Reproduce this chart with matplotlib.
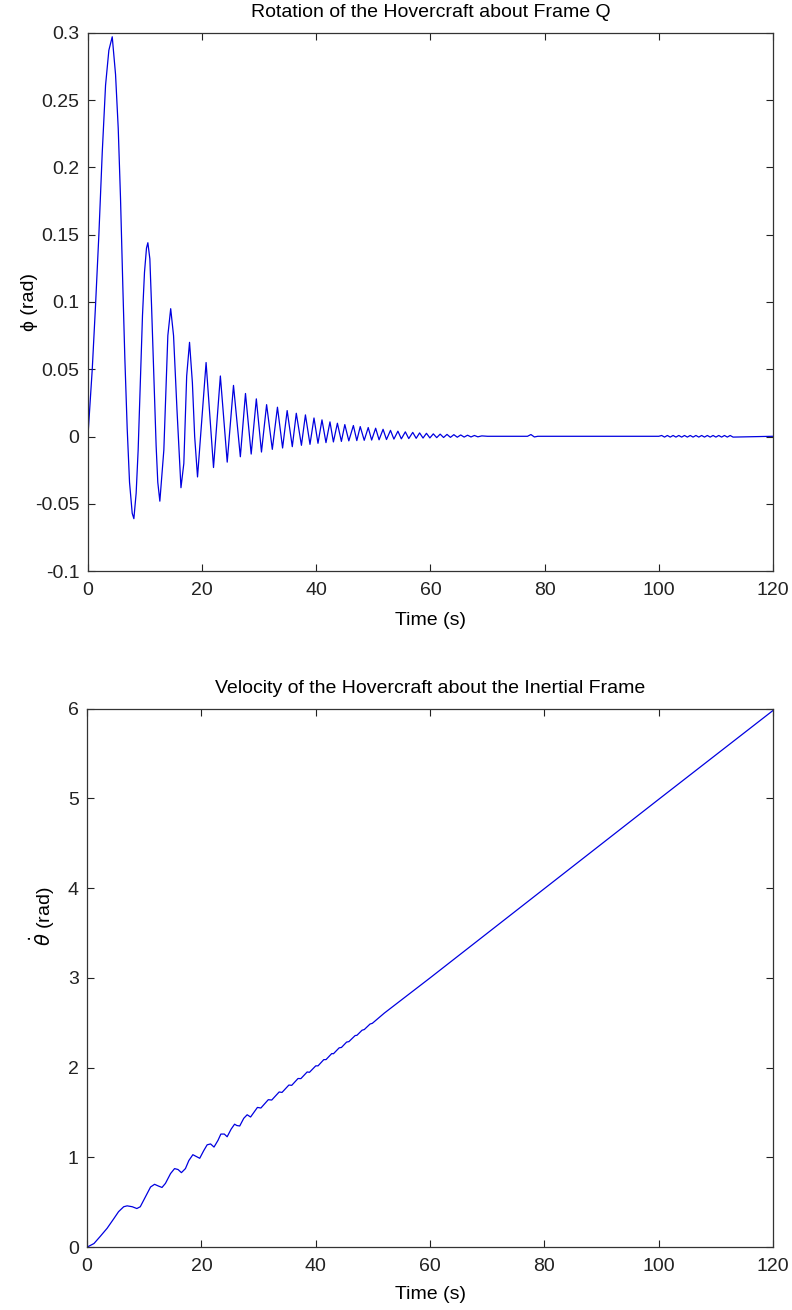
import matplotlib
matplotlib.use("Agg")
import matplotlib.pyplot as plt
from matplotlib.ticker import FuncFormatter

plt.rcParams['font.family'] = ['Liberation Sans', 'DejaVu Sans']
plt.rcParams['axes.unicode_minus'] = False

# --- rotation phi(t), points (extrema + shape points)
t_phi = [0, 0.76, 1.34, 1.92, 2.51, 3.09, 3.67, 4.26, 4.84, 5.31, 5.71, 6.12, 6.47,
         6.88, 7.29, 7.76, 8.05, 8.45, 8.80, 9.21, 9.56, 9.91, 10.26, 10.5, 10.85,
         11.14, 11.55, 11.95, 12.24, 12.6,
         13.3, 14.0, 14.5, 15.0, 15.6, 16.3, 16.8, 17.3, 17.8, 18.3, 18.7, 19.2,
         20.7, 22.0, 23.2, 24.4, 25.5, 26.7, 27.6, 28.6, 29.5, 30.4, 31.3, 32.3,
         33.2, 34.1, 34.9, 35.8, 36.5, 37.4, 38.1, 38.9, 39.6, 40.3, 41.0, 41.7,
         42.4, 43.0, 43.7, 44.4, 45.0, 45.7, 46.5, 47.1, 47.7, 48.4, 49.1, 49.7,
         50.4, 51.0, 51.7, 52.3, 53.0, 53.6, 54.3, 54.9, 55.6, 56.2, 56.9, 57.5,
         58.1, 58.7, 59.3, 59.9, 60.5, 61.1, 61.7, 62.3, 62.9, 63.5, 64.1, 64.7,
         65.3, 65.9, 66.5, 67.1, 67.7, 68.3, 69.0, 70.0, 77.0, 77.6, 78.2, 78.8,
         80.0, 100.0, 100.5, 101.0, 101.5, 102.0, 102.5, 103.0, 103.5, 104.0,
         104.5, 105.0, 105.5, 106.0, 106.5, 107.0, 107.5, 108.0, 108.5, 109.0,
         109.5, 110.0, 110.5, 111.0, 111.5, 112.0, 112.5, 113.0, 120.0]
phi = [0, 0.050, 0.098, 0.150, 0.211, 0.261, 0.287, 0.297, 0.269, 0.229, 0.177,
       0.111, 0.058, 0.006, -0.034, -0.057, -0.061, -0.042, -0.010, 0.045, 0.090,
       0.122, 0.140, 0.144, 0.132, 0.098, 0.045, -0.007, -0.034, -0.048,
       -0.010, 0.075, 0.095, 0.075, 0.020, -0.038, -0.020, 0.045, 0.070, 0.040,
       0.000, -0.030,
       0.055, -0.023, 0.045, -0.019, 0.038, -0.015, 0.032, -0.013, 0.028, -0.0115,
       0.0237, -0.0095, 0.0218, -0.0085, 0.0193, -0.0075, 0.0173, -0.0065, 0.0161,
       -0.0058, 0.0138, -0.0050, 0.0124, -0.0045, 0.0109, -0.0040, 0.0099, -0.0036,
       0.0089, -0.0032, 0.0082, -0.0030, 0.0074, -0.0028, 0.0067, -0.0026, 0.0062,
       -0.0024, 0.0054, -0.0022, 0.0046, -0.0019, 0.0040, -0.0017, 0.0035, -0.0015,
       0.0031, -0.0013, 0.0027, -0.0011, 0.0024, -0.0010, 0.0020, -0.0008, 0.0018,
       -0.0007, 0.0016, -0.0006, 0.0014, -0.0005, 0.0012, -0.0004, 0.0010, -0.0003,
       0.0008, -0.0002, 0.0005, 0.0002, 0.0002, 0.0015, -0.0003, 0.0002, 0.0002,
       0.0002,
       0.0008, -0.0004, 0.0008, -0.0004, 0.0008, -0.0004, 0.0008, -0.0004,
       0.0008, -0.0004, 0.0008, -0.0004, 0.0008, -0.0004, 0.0008, -0.0004,
       0.0008, -0.0004, 0.0008, -0.0004, 0.0008, -0.0004, 0.0008, -0.0004,
       0.0008, -0.0004,
       0.0002]

# --- angular velocity theta_dot(t)
t_vel = [0, 1.2, 2.3, 3.5, 4.7, 5.5, 6.4, 7.0, 7.9, 8.7, 9.3, 10.2, 11.1, 11.8,
         12.5, 13.1, 13.7, 14.6, 15.3, 15.9, 16.5, 17.2, 17.8, 18.5, 19.1, 19.7,
         20.4, 21.0, 21.6, 22.2, 22.9, 23.4, 24.0, 24.5, 25.2, 25.8, 26.2, 26.7,
         27.4, 28.0, 28.6, 29.8, 30.4, 31.7, 32.3, 33.6, 34.1, 35.3, 35.8, 36.9,
         37.4, 38.5, 38.9, 40.0, 40.4, 41.4, 41.8, 42.8, 43.1, 44.1, 44.5, 45.4,
         45.8, 46.9, 47.2, 48.1, 48.5, 49.5, 49.9, 52.0, 55.0, 60.0, 80.0, 100.0,
         120.0]
theta_dot = [0, 0.04, 0.12, 0.21, 0.32, 0.395, 0.45, 0.46, 0.45, 0.43, 0.45, 0.56,
             0.67, 0.70, 0.68, 0.665, 0.71, 0.82, 0.875, 0.865, 0.83, 0.875, 0.965,
             1.03, 1.01, 0.99, 1.075, 1.14, 1.15, 1.115, 1.19, 1.26, 1.26, 1.23,
             1.315, 1.37, 1.355, 1.35, 1.435, 1.475, 1.45, 1.557, 1.55, 1.643,
             1.639, 1.729, 1.724, 1.806, 1.803, 1.879, 1.878, 1.952, 1.948, 2.02,
             2.02, 2.089, 2.09, 2.157, 2.155, 2.221, 2.225, 2.285, 2.29, 2.358,
             2.36, 2.417, 2.425, 2.486, 2.494, 2.608, 2.755, 3.0, 3.995, 4.99, 5.98]

x_ticks = [0, 20, 40, 60, 80, 100, 120]
phi_ticks = [-0.1, -0.05, 0, 0.05, 0.1, 0.15, 0.2, 0.25, 0.3]
vel_ticks = [0, 1, 2, 3, 4, 5, 6]

fig = plt.figure(figsize=(7.92, 13.1), dpi=100)
ax1 = fig.add_axes([0.111, 0.564, 0.865, 0.411])
ax2 = fig.add_axes([0.110, 0.048, 0.866, 0.411])

fmt = FuncFormatter(lambda v, p: f"{v:g}")
fs = 14

ax1.plot(t_phi, phi, color='#0000e0', lw=0.9)
ax1.set_xlim(0, 120)
ax1.set_ylim(-0.1, 0.3)
ax1.set_yticks(phi_ticks)
ax1.set_title("Rotation of the Hovercraft about Frame Q", fontsize=fs, pad=11)
ax1.set_xlabel("Time (s)", fontsize=fs, labelpad=9)
ax1.set_ylabel("ϕ (rad)", fontsize=fs, labelpad=-2)

ax2.plot(t_vel, theta_dot, color='#0000e0', lw=0.9)
ax2.set_xlim(0, 120)
ax2.set_ylim(0, 6)
ax2.set_yticks(vel_ticks)
ax2.set_title("Velocity of the Hovercraft about the Inertial Frame", fontsize=fs, pad=11)
ax2.set_xlabel("Time (s)", fontsize=fs, labelpad=8)
ax2.set_ylabel(r"$\dot{\theta}$ (rad)", fontsize=fs, labelpad=8)
ax2.yaxis.label.set_y(0.615)

for ax in (ax1, ax2):
    ax.set_xticks(x_ticks)
    ax.xaxis.set_major_formatter(fmt)
    ax.yaxis.set_major_formatter(fmt)
    ax.tick_params(direction='in', top=True, right=True, length=5, width=0.8,
                   labelsize=fs, colors='#222222')
    ax.tick_params(axis='x', pad=8)
    ax.tick_params(axis='y', pad=6)
    for s in ax.spines.values():
        s.set_linewidth(0.9)
        s.set_color('#333333')

fig.savefig("out.png", dpi=100)
